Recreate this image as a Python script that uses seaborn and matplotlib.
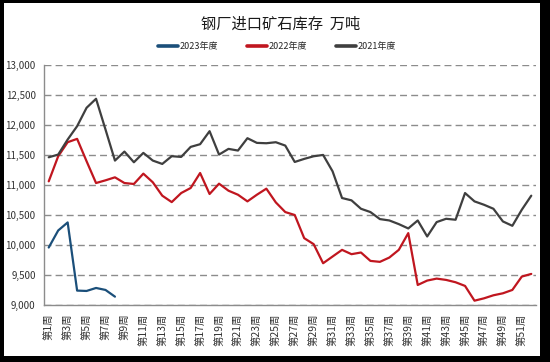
import numpy as np
import pandas as pd
import matplotlib
matplotlib.use("Agg")
import matplotlib.pyplot as plt
import seaborn as sns
from matplotlib.patches import Rectangle
from matplotlib.ticker import FuncFormatter

# 数据（万吨）
weeks = [f"第{i}周" for i in range(1, 53)]
years = ["2023年度", "2022年度", "2021年度"]
colors = ["#1B4F7A", "#C0161F", "#3F3F3F"]

y2023 = [9958, 10242, 10376, 9240, 9234, 9284, 9251, 9139]
y2022 = [11061, 11479, 11713, 11769, 11396, 11033, 11078, 11128, 11033, 11017,
         11189, 11045, 10822, 10715, 10866, 10950, 11200, 10850, 11022, 10905,
         10838, 10727, 10838, 10939, 10710, 10549, 10500, 10114, 10014, 9696,
         9808, 9919, 9847, 9875, 9735, 9719, 9791, 9919, 10198, 9334,
         9407, 9440, 9418, 9379, 9318, 9072, 9111, 9162, 9195, 9251,
         9474, 9518]
y2021 = [11462, 11507, 11758, 11980, 12287, 12437, 11925, 11407, 11557, 11379,
         11535, 11407, 11351, 11480, 11468, 11635, 11680, 11897, 11507, 11602,
         11574, 11780, 11702, 11696, 11713, 11657, 11384, 11435, 11479, 11501,
         11228, 10783, 10744, 10604, 10549, 10432, 10409, 10348, 10276, 10409,
         10142, 10382, 10437, 10421, 10866, 10727, 10671, 10604, 10393, 10320,
         10588, 10822]

frames = []
for name, vals in zip(years, [y2023, y2022, y2021]):
    frames.append(pd.DataFrame({"week": weeks[:len(vals)],
                                "pos": np.arange(len(vals)),
                                "value": vals,
                                "year": name}))
df = pd.concat(frames, ignore_index=True)

sns.set_theme(style="white")
plt.rcParams["font.family"] = ["Noto Sans CJK SC", "DejaVu Sans"]

W, H = 550, 362
fig = plt.figure(figsize=(W / 100, H / 100), dpi=100, facecolor="black")
# 白色图表区（外圈黑框）
fig.patches.append(Rectangle((4 / W, 1 - 356 / H), 536 / W, 353 / H,
                             transform=fig.transFigure, facecolor="white",
                             edgecolor="none", zorder=-10))

ax = fig.add_axes([44 / W, 1 - 305 / H, (536 - 44) / W, (305 - 65) / H])
ax.set_facecolor("white")

sns.lineplot(data=df, x="pos", y="value", hue="year", hue_order=years,
             palette=colors, linewidth=1.6, sort=False, legend=False, ax=ax)

ax.set_xlim(-0.5, 51.5)
ax.set_ylim(9000, 13000)
ax.set_yticks(np.arange(9000, 13001, 500))
ax.yaxis.set_major_formatter(FuncFormatter(lambda v, p: f"{int(v):,}"))
ax.set_xticks(np.arange(0, 52, 2))
ax.set_xticklabels(weeks[::2], rotation=90)
ax.set_xticks(np.arange(-0.5, 52, 1), minor=True)
ax.tick_params(axis="x", which="major", length=0, labelsize=7.5, pad=6,
               labelcolor="#333333")
ax.tick_params(axis="x", which="minor", length=4, width=0.8, color="#8c8c8c",
               direction="out")
ax.tick_params(axis="y", which="major", length=4, width=0.8, color="#8c8c8c",
               direction="out", labelsize=7, labelcolor="#333333", pad=2)
ax.set_xlabel("")
ax.set_ylabel("")

ax.yaxis.grid(True, linestyle=(0, (5, 3)), color="#8c8c8c", linewidth=1.0)
ax.set_axisbelow(True)
for s in ["top", "right"]:
    ax.spines[s].set_visible(False)
for s in ["left", "bottom"]:
    ax.spines[s].set_color("#8c8c8c")
    ax.spines[s].set_linewidth(1.0)

fig.text(281 / W, 1 - 24 / H, "钢厂进口矿石库存  万吨", ha="center", va="center",
         fontsize=11, color="#1a1a1a")

handles = [plt.Line2D([], [], color=c, linewidth=2.6) for c in colors]
fig.legend(handles, years, loc="center", bbox_to_anchor=(277 / W, 1 - 47 / H),
           ncol=3, frameon=False, fontsize=6.5, handlelength=2.2,
           handletextpad=0.2, columnspacing=3.2)

fig.savefig("out.png", dpi=100, facecolor="black")
